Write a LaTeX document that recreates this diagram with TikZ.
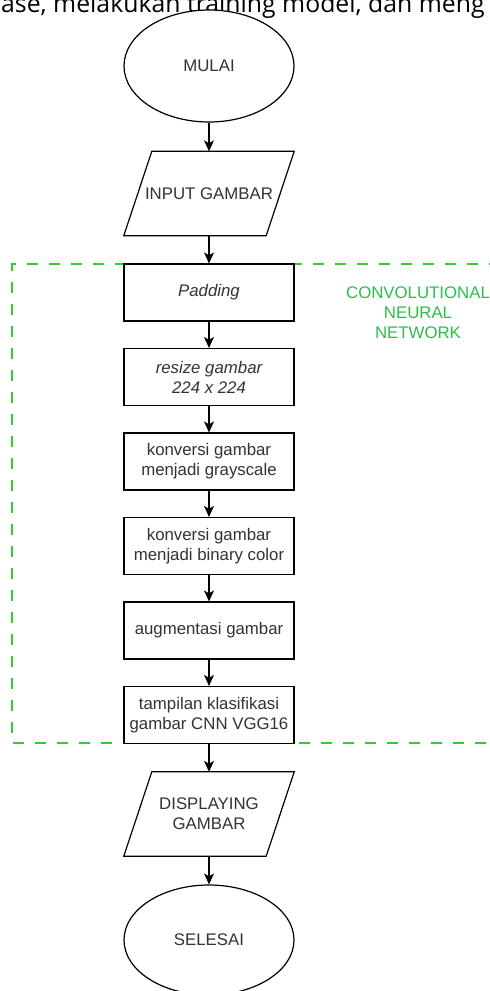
\documentclass[tikz,border=0pt]{standalone}
\usepackage{fontspec}
\setmainfont{Liberation Sans}
\newfontfamily\bodyfont{Open Sans}
\usetikzlibrary{shapes.geometric,arrows.meta,calc}
\definecolor{txt}{HTML}{333333}
\definecolor{cnngreen}{HTML}{33CC33}
\definecolor{cnnlabel}{HTML}{2DBE4A}
\tikzset{
  base/.style={font=\fontsize{16.8}{20}\selectfont, text=txt, inner sep=0pt, align=center},
  terminal/.style={base, ellipse, draw, line width=1.2pt, fill=white, minimum width=170pt, minimum height=112pt},
  procbox/.style={base, rectangle, draw, line width=1.2pt, fill=white, minimum width=170pt, minimum height=57pt},
  iobox/.style={base, rectangle, minimum width=170pt, minimum height=84pt},
  ioshape/.style={line width=1.2pt},
  flow/.style={-{Stealth[length=11pt,width=10pt,inset=3pt]}, line width=1.2pt},
  cnnframe/.style={draw=cnngreen, line width=1.3pt, dash pattern=on 11pt off 11pt},
}
\begin{document}
\begin{tikzpicture}[x=1pt,y=-1pt]
\useasboundingbox (0,0) rectangle (490,991);
\clip (0,0) rectangle (490,991);
\fill[white] (0,0) rectangle (490,991);
% cropped body text line
\node[anchor=base west, font=\bodyfont\fontsize{24.8}{28}\selectfont, inner sep=0pt] (para) at (1,12.5) {ase, melakukan training model, dan meng};
% CNN frame
\draw[cnnframe] (500,264) -- (12,264) -- (12,743) -- (500,743);
\node[base, text=cnnlabel] (cnn) at (418,313) {CONVOLUTIONAL\\NEURAL\\NETWORK};
% nodes
\node[terminal] (start) at (209,66) {MULAI};
\node[iobox] (in) at (209,193.5) {INPUT GAMBAR};
\draw[ioshape] ($(in.north west)+(28,0)$) -- (in.north east) -- ($(in.south east)+(-28,0)$) -- (in.south west) -- cycle;
\node[procbox] (pad) at (209,292.5) {\itshape Padding};
\node[procbox] (resize) at (209,377) {\itshape resize gambar\\\itshape 224 x 224};
\node[procbox] (gray) at (209,461.5) {konversi gambar\\menjadi grayscale};
\node[procbox] (bin) at (209,546) {konversi gambar\\menjadi binary color};
\node[procbox] (aug) at (209,630.5) {augmentasi gambar};
\node[procbox] (cls) at (209,715) {tampilan klasifikasi\\gambar CNN VGG16};
\node[iobox] (out) at (209,814) {DISPLAYING\\GAMBAR};
\draw[ioshape] ($(out.north west)+(28,0)$) -- (out.north east) -- ($(out.south east)+(-28,0)$) -- (out.south west) -- cycle;
\node[terminal, minimum height=110pt] (end) at (209,940) {SELESAI};
% connectors
\draw[flow] (start) -- (in);
\draw[flow] (in) -- (pad);
\draw[flow] (pad) -- (resize);
\draw[flow] (resize) -- (gray);
\draw[flow] (gray) -- (bin);
\draw[flow] (bin) -- (aug);
\draw[flow] (aug) -- (cls);
\draw[flow] (cls) -- (out);
\draw[flow] (out) -- (end);
\end{tikzpicture}
\end{document}
